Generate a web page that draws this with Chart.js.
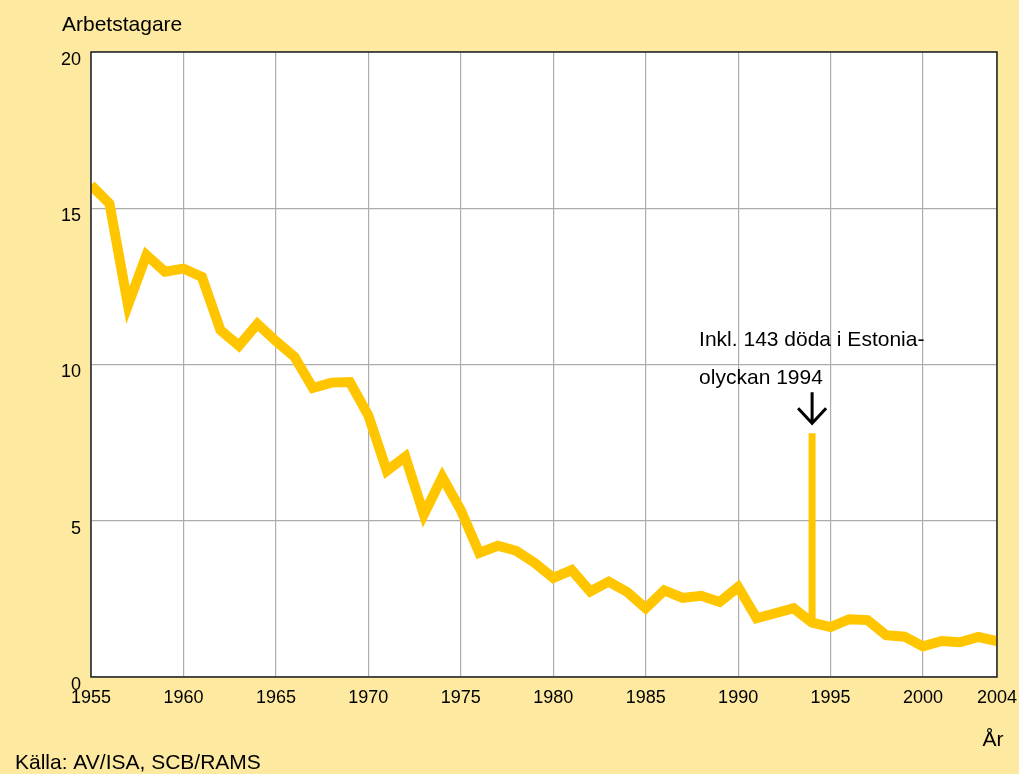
<!DOCTYPE html>
<html>
<head>
<meta charset="utf-8">
<script src="https://cdn.jsdelivr.net/npm/chart.js@4.4.1/dist/chart.umd.min.js"></script>
<style>
  html, body { margin: 0; padding: 0; background: #fde9a0; }
  #wrap { width: 1019px; height: 774px; position: relative; }
</style>
</head>
<body>
<div id="wrap"><canvas id="chart" width="1019" height="774"></canvas></div>
<script>
// ---- data ----
const years = [
  1955, 1956, 1957, 1958, 1959, 1960, 1961, 1962, 1963, 1964,
  1965, 1966, 1967, 1968, 1969, 1970, 1971, 1972, 1973, 1974,
  1975, 1976, 1977, 1978, 1979, 1980, 1981, 1982, 1983, 1984,
  1985, 1986, 1987, 1988, 1989, 1990, 1991, 1992, 1993, 1994,
  1995, 1996, 1997, 1998, 1999, 2000, 2001, 2002, 2003, 2004
];
const workers = [
  15.74, 15.15, 11.9, 13.5, 12.97, 13.07, 12.8, 11.1, 10.6, 11.3,
  10.75, 10.25, 9.25, 9.42, 9.44, 8.37, 6.6, 7.05, 5.2, 6.4,
  5.34, 3.97, 4.2, 4.04, 3.65, 3.17, 3.42, 2.74, 3.05, 2.72,
  2.2, 2.77, 2.53, 2.6, 2.4, 2.88, 1.88, 2.04, 2.2, 1.74,
  1.6, 1.85, 1.82, 1.34, 1.29, 0.98, 1.15, 1.11, 1.28, 1.15
];
// Estonia 1994 spike (incl. 143 deaths)
const spikeYear = 1994;
const spikeRange = [1.74, 7.8];

const xTicks = [1955, 1960, 1965, 1970, 1975, 1980, 1985, 1990, 1995, 2000, 2004];
const yTicks = [0, 5, 10, 15, 20];

const LINE_COLOR = '#ffc600';
const BG = '#fde9a0';
const FONT = '"Liberation Sans", Arial, sans-serif';

// ---- plugins ----
const backdrop = {
  id: 'backdrop',
  beforeDraw(chart) {
    const { ctx, chartArea: a } = chart;
    ctx.save();
    ctx.fillStyle = BG;
    ctx.fillRect(0, 0, chart.width, chart.height);
    ctx.fillStyle = '#ffffff';
    ctx.fillRect(a.left, a.top, a.right - a.left, a.bottom - a.top);
    ctx.restore();
  }
};

const extras = {
  id: 'extras',
  afterDraw(chart) {
    const { ctx, chartArea: a } = chart;
    const xs = chart.scales.x, ys = chart.scales.y;
    ctx.save();

    // plot frame
    ctx.strokeStyle = '#222';
    ctx.lineWidth = 1.5;
    ctx.strokeRect(a.left, a.top, a.right - a.left, a.bottom - a.top);

    ctx.fillStyle = '#000';
    ctx.font = '21px ' + FONT;
    ctx.textBaseline = 'middle';

    // axis titles + source
    ctx.textAlign = 'left';
    ctx.fillText('Arbetstagare', 62, 25);
    ctx.fillText('Källa: AV/ISA, SCB/RAMS', 15, 763);
    ctx.textAlign = 'center';
    ctx.fillText('År', xs.getPixelForValue(2004) - 4, 740);

    // annotation above the spike
    const sx = xs.getPixelForValue(spikeYear);
    const sTop = ys.getPixelForValue(spikeRange[1]);
    ctx.textAlign = 'left';
    ctx.fillText('Inkl. 143 döda i Estonia-', sx - 113, sTop - 93);
    ctx.fillText('olyckan 1994', sx - 113, sTop - 55);

    // arrow
    ctx.strokeStyle = '#000';
    ctx.lineWidth = 3;
    ctx.lineCap = 'butt';
    ctx.beginPath();
    ctx.moveTo(sx, sTop - 41);
    ctx.lineTo(sx, sTop - 10);
    ctx.moveTo(sx - 14, sTop - 25);
    ctx.lineTo(sx, sTop - 10);
    ctx.lineTo(sx + 14, sTop - 25);
    ctx.stroke();

    ctx.restore();
  }
};

// ---- chart ----
new Chart(document.getElementById('chart'), {
  type: 'line',
  data: {
    datasets: [
      {
        data: years.map((y, i) => ({ x: y, y: workers[i] })),
        borderColor: LINE_COLOR,
        borderWidth: 10,
        borderJoinStyle: 'miter',
        pointRadius: 0,
        tension: 0
      },
      {
        data: spikeRange.map(v => ({ x: spikeYear, y: v })),
        borderColor: LINE_COLOR,
        borderWidth: 7,
        borderCapStyle: 'butt',
        pointRadius: 0
      }
    ]
  },
  options: {
    responsive: false,
    animation: false,
    events: [],
    layout: { padding: { left: 0, top: 52, right: 22, bottom: 0 } },
    plugins: { legend: { display: false }, tooltip: { enabled: false } },
    scales: {
      x: {
        type: 'linear',
        min: 1955,
        max: 2004,
        afterBuildTicks: s => { s.ticks = xTicks.map(v => ({ value: v })); },
        afterFit: s => { s.height = 97; s.paddingLeft = 0; s.paddingRight = 0; },
        grid: { color: '#adadad', lineWidth: 1.2, drawTicks: false },
        border: { display: false },
        ticks: {
          padding: 10,
          color: '#000',
          font: { family: FONT, size: 18 },
          maxRotation: 0,
          autoSkip: false,
          callback: v => String(v)
        }
      },
      y: {
        min: 0,
        max: 20,
        afterBuildTicks: s => { s.ticks = yTicks.map(v => ({ value: v })); },
        afterFit: s => { s.width = 91; },
        grid: { color: '#adadad', lineWidth: 1.2, drawTicks: false },
        border: { display: false },
        ticks: {
          padding: 10,
          labelOffset: 8,
          color: '#000',
          font: { family: FONT, size: 18 }
        }
      }
    }
  },
  plugins: [backdrop, extras]
});
</script>
</body>
</html>
